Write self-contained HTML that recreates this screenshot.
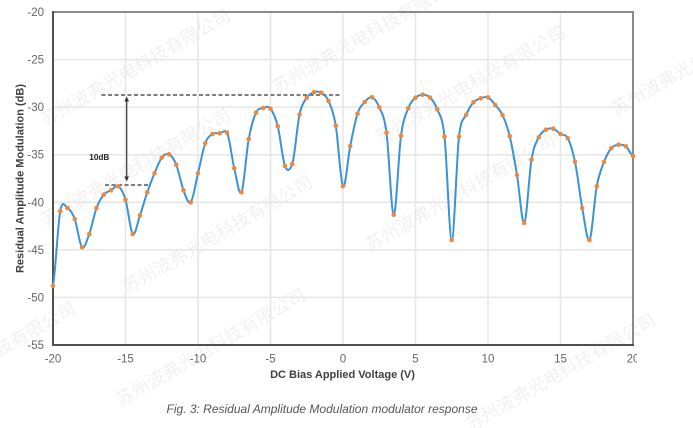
<!DOCTYPE html>
<html>
<head>
<meta charset="utf-8">
<style>
html,body{margin:0;padding:0;background:#fff;}
svg{display:block;}
</style>
</head>
<body>
<svg width="693" height="428" viewBox="0 0 693 428" xmlns="http://www.w3.org/2000/svg">
<defs>
<clipPath id="clipx"><rect x="0" y="0" width="637" height="428"/></clipPath>
</defs>
<rect width="693" height="428" fill="#fff"/>

<!-- watermarks -->
<g font-family="'Liberation Sans','Noto Sans CJK SC',sans-serif" font-size="18" fill="#000" fill-opacity="0.06">
<text transform="translate(45,127) rotate(-30)">苏州波弗光电科技有限公司</text>
<text transform="translate(277,94) rotate(-30)">苏州波弗光电科技有限公司</text>
<text transform="translate(380,144) rotate(-30)">苏州波弗光电科技有限公司</text>
<text transform="translate(616,116) rotate(-30)">苏州波弗光电科技有限公司</text>
<text transform="translate(45,227) rotate(-30)">苏州波弗光电科技有限公司</text>
<text transform="translate(127,294) rotate(-30)">苏州波弗光电科技有限公司</text>
<text transform="translate(370,252) rotate(-30)">苏州波弗光电科技有限公司</text>
<text transform="translate(120,407) rotate(-30)">苏州波弗光电科技有限公司</text>
<text transform="translate(470,432) rotate(-30)">苏州波弗光电科技有限公司</text>
<text transform="translate(-110,420) rotate(-30)">苏州波弗光电科技有限公司</text>
</g>

<!-- grid -->
<g stroke="#e6e6e6" stroke-width="1.5">
<line x1="125.5" y1="12" x2="125.5" y2="345"/>
<line x1="198" y1="12" x2="198" y2="345"/>
<line x1="270.5" y1="12" x2="270.5" y2="345"/>
<line x1="343" y1="12" x2="343" y2="345"/>
<line x1="415.5" y1="12" x2="415.5" y2="345"/>
<line x1="488" y1="12" x2="488" y2="345"/>
<line x1="560.5" y1="12" x2="560.5" y2="345"/>
<line x1="53" y1="59.57" x2="633" y2="59.57"/>
<line x1="53" y1="107.14" x2="633" y2="107.14"/>
<line x1="53" y1="154.71" x2="633" y2="154.71"/>
<line x1="53" y1="202.29" x2="633" y2="202.29"/>
<line x1="53" y1="249.86" x2="633" y2="249.86"/>
<line x1="53" y1="297.43" x2="633" y2="297.43"/>
</g>

<!-- frame -->
<line x1="53" y1="12" x2="634" y2="12" stroke="#8a8a8a" stroke-width="2"/>
<line x1="633" y1="12" x2="633" y2="345" stroke="#8a8a8a" stroke-width="2"/>
<line x1="53" y1="11" x2="53" y2="346" stroke="#505050" stroke-width="2"/>
<line x1="52" y1="345" x2="634" y2="345" stroke="#505050" stroke-width="2"/>

<!-- y tick labels -->
<g font-family="'Liberation Sans',sans-serif" font-size="11.5" fill="#666" text-anchor="end">
<text x="44" y="16">-20</text>
<text x="44" y="63.6">-25</text>
<text x="44" y="111.1">-30</text>
<text x="44" y="158.7">-35</text>
<text x="44" y="206.3">-40</text>
<text x="44" y="253.9">-45</text>
<text x="44" y="301.4">-50</text>
<text x="44" y="349">-55</text>
</g>

<!-- x tick labels -->
<g font-family="'Liberation Sans',sans-serif" font-size="11.5" fill="#666" text-anchor="middle" clip-path="url(#clipx)">
<text x="53" y="362.5">-20</text>
<text x="125.5" y="362.5">-15</text>
<text x="198" y="362.5">-10</text>
<text x="270.5" y="362.5">-5</text>
<text x="343" y="362.5">0</text>
<text x="415.5" y="362.5">5</text>
<text x="488" y="362.5">10</text>
<text x="560.5" y="362.5">15</text>
<text x="633" y="362.5">20</text>
</g>

<!-- axis titles -->
<text x="342.5" y="378" font-family="'Liberation Sans',sans-serif" font-size="11" font-weight="bold" fill="#404040" text-anchor="middle">DC Bias Applied Voltage (V)</text>
<text transform="translate(23.5,178.5) rotate(-90)" font-family="'Liberation Sans',sans-serif" font-size="11" font-weight="bold" fill="#404040" text-anchor="middle">Residual Amplitude Modulation (dB)</text>

<!-- caption -->
<text x="166.5" y="413" font-family="'Liberation Sans',sans-serif" font-size="12" font-style="italic" fill="#555" textLength="311" lengthAdjust="spacingAndGlyphs">Fig. 3: Residual Amplitude Modulation modulator response</text>

<!-- annotation -->
<g stroke="#555" stroke-width="1.4" stroke-dasharray="4 2.5">
<line x1="101.5" y1="95" x2="341" y2="95"/>
<line x1="105" y1="185" x2="151" y2="185"/>
</g>
<line x1="126.7" y1="100" x2="126.7" y2="177" stroke="#333" stroke-width="1.2"/>
<polygon points="126.7,96.5 124.4,101.5 129,101.5" fill="#333"/>
<polygon points="126.7,181.5 124.4,176.5 129,176.5" fill="#333"/>
<text x="89.3" y="160" font-family="'Liberation Sans',sans-serif" font-size="8.2" font-weight="bold" fill="#222">10dB</text>

<!-- series -->
<path fill="none" stroke="#3a93d6" stroke-width="2" stroke-linejoin="round" d="M53,285.7 C55.42,273.25 57.83,223.95 60.25,211
S65.08,206.67 67.5,208
S72.33,212.45 74.75,219
S79.58,244.8 82,247.3
S86.83,240.55 89.25,234
S94.08,214.55 96.5,208
S101.33,197.65 103.75,194.7
S108.58,191.7 111,190.3
S115.83,184.73 118.25,186.3
S123.08,191.75 125.5,199.7
S130.33,231.4 132.75,234
S137.58,222.25 140,215.3
S144.83,199.3 147.25,192.3
S152.08,179.07 154.5,173.3
S159.33,160.87 161.75,157.7
S166.58,153.13 169,154.3
S173.83,158.7 176.25,164.7
S181.08,184.03 183.5,190.3
S188.33,205.13 190.75,202.3
S195.58,183.13 198,173.3
S202.83,149.85 205.25,143.3
S210.08,135.67 212.5,134
S217.33,133.52 219.75,133.3
S224.58,128.87 227,132.7
S231.83,158.37 234.25,168.3
S239.08,197.18 241.5,192.3
S246.33,152.27 248.75,139
S253.58,117.87 256,112.7
S260.83,108.67 263.25,108
S268.08,105.65 270.5,108.7
S275.33,116.75 277.75,126.3
S282.58,159.72 285,166
S289.83,170.55 292.25,164
S297.08,125.75 299.5,114.7
S304.33,101.43 306.75,97.7
S311.58,93.13 314,92.3
S318.83,91.25 321.25,92.7
S326.08,95.5 328.5,101
S333.33,111.48 335.75,125.7
S340.58,182.92 343,186.3
S347.83,158.1 350.25,146
S355.08,121.03 357.5,113.7
S362.33,104.73 364.75,102
S369.58,96.42 372,97.3
S376.83,101.4 379.25,107.3
S384.08,114.8 386.5,132.7
S391.33,214.2 393.75,214.7
S398.58,153.43 401,135.7
S405.83,114.63 408.25,108.3
S413.08,99.97 415.5,97.7
S420.33,94.73 422.75,94.7
S427.58,95.07 430,97.5
S434.83,102.77 437.25,109.3
S442.08,114.92 444.5,136.7
S449.33,240 451.75,240
S456.58,157.58 459,136.7
S463.83,120.43 466.25,114.7
S471.08,105.03 473.5,102.3
S478.33,99.13 480.75,98.3
S485.58,96.18 488,97.3
S492.83,102.05 495.25,105
S500.08,109.78 502.5,115
S507.33,126.3 509.75,136.3
S514.58,160.55 517,175
S521.83,224.55 524.25,223
S529.08,173.98 531.5,159.7
S536.33,142.3 538.75,137.3
S543.58,131.13 546,129.7
S550.83,127.98 553.25,128.7
S558.08,132.4 560.5,134
S565.33,133.68 567.75,138.3
S572.58,150.08 575,161.7
S579.83,194.95 582.25,208
S587.08,242.62 589.5,240
S594.33,199.3 596.75,186.3
S601.58,168.33 604,162
S608.83,151.18 611.25,148.3
S616.08,145.03 618.5,144.7
S623.33,144.42 625.75,146.3
S630.58,154.38 633,156"/>

<!-- markers -->
<g fill="#f0883a">
<circle cx="53" cy="285.7" r="2.3"/><circle cx="60.25" cy="211" r="2.3"/><circle cx="67.5" cy="208" r="2.3"/><circle cx="74.75" cy="219" r="2.3"/><circle cx="82" cy="247.3" r="2.3"/><circle cx="89.25" cy="234" r="2.3"/><circle cx="96.5" cy="208" r="2.3"/><circle cx="103.75" cy="194.7" r="2.3"/><circle cx="111" cy="190.3" r="2.3"/><circle cx="118.25" cy="186.3" r="2.3"/>
<circle cx="125.5" cy="199.7" r="2.3"/><circle cx="132.75" cy="234" r="2.3"/><circle cx="140" cy="215.3" r="2.3"/><circle cx="147.25" cy="192.3" r="2.3"/><circle cx="154.5" cy="173.3" r="2.3"/><circle cx="161.75" cy="157.7" r="2.3"/><circle cx="169" cy="154.3" r="2.3"/><circle cx="176.25" cy="164.7" r="2.3"/><circle cx="183.5" cy="190.3" r="2.3"/><circle cx="190.75" cy="202.3" r="2.3"/>
<circle cx="198" cy="173.3" r="2.3"/><circle cx="205.25" cy="143.3" r="2.3"/><circle cx="212.5" cy="134" r="2.3"/><circle cx="219.75" cy="133.3" r="2.3"/><circle cx="227" cy="132.7" r="2.3"/><circle cx="234.25" cy="168.3" r="2.3"/><circle cx="241.5" cy="192.3" r="2.3"/><circle cx="248.75" cy="139" r="2.3"/><circle cx="256" cy="112.7" r="2.3"/><circle cx="263.25" cy="108" r="2.3"/>
<circle cx="270.5" cy="108.7" r="2.3"/><circle cx="277.75" cy="126.3" r="2.3"/><circle cx="285" cy="166" r="2.3"/><circle cx="292.25" cy="164" r="2.3"/><circle cx="299.5" cy="114.7" r="2.3"/><circle cx="306.75" cy="97.7" r="2.3"/><circle cx="314" cy="92.3" r="2.3"/><circle cx="321.25" cy="92.7" r="2.3"/><circle cx="328.5" cy="101" r="2.3"/><circle cx="335.75" cy="125.7" r="2.3"/>
<circle cx="343" cy="186.3" r="2.3"/><circle cx="350.25" cy="146" r="2.3"/><circle cx="357.5" cy="113.7" r="2.3"/><circle cx="364.75" cy="102" r="2.3"/><circle cx="372" cy="97.3" r="2.3"/><circle cx="379.25" cy="107.3" r="2.3"/><circle cx="386.5" cy="132.7" r="2.3"/><circle cx="393.75" cy="214.7" r="2.3"/><circle cx="401" cy="135.7" r="2.3"/><circle cx="408.25" cy="108.3" r="2.3"/>
<circle cx="415.5" cy="97.7" r="2.3"/><circle cx="422.75" cy="94.7" r="2.3"/><circle cx="430" cy="97.5" r="2.3"/><circle cx="437.25" cy="109.3" r="2.3"/><circle cx="444.5" cy="136.7" r="2.3"/><circle cx="451.75" cy="240" r="2.3"/><circle cx="459" cy="136.7" r="2.3"/><circle cx="466.25" cy="114.7" r="2.3"/><circle cx="473.5" cy="102.3" r="2.3"/><circle cx="480.75" cy="98.3" r="2.3"/>
<circle cx="488" cy="97.3" r="2.3"/><circle cx="495.25" cy="105" r="2.3"/><circle cx="502.5" cy="115" r="2.3"/><circle cx="509.75" cy="136.3" r="2.3"/><circle cx="517" cy="175" r="2.3"/><circle cx="524.25" cy="223" r="2.3"/><circle cx="531.5" cy="159.7" r="2.3"/><circle cx="538.75" cy="137.3" r="2.3"/><circle cx="546" cy="129.7" r="2.3"/><circle cx="553.25" cy="128.7" r="2.3"/>
<circle cx="560.5" cy="134" r="2.3"/><circle cx="567.75" cy="138.3" r="2.3"/><circle cx="575" cy="161.7" r="2.3"/><circle cx="582.25" cy="208" r="2.3"/><circle cx="589.5" cy="240" r="2.3"/><circle cx="596.75" cy="186.3" r="2.3"/><circle cx="604" cy="162" r="2.3"/><circle cx="611.25" cy="148.3" r="2.3"/><circle cx="618.5" cy="144.7" r="2.3"/><circle cx="625.75" cy="146.3" r="2.3"/>
<circle cx="633" cy="156" r="2.3"/>
</g>
</svg>
</body>
</html>
